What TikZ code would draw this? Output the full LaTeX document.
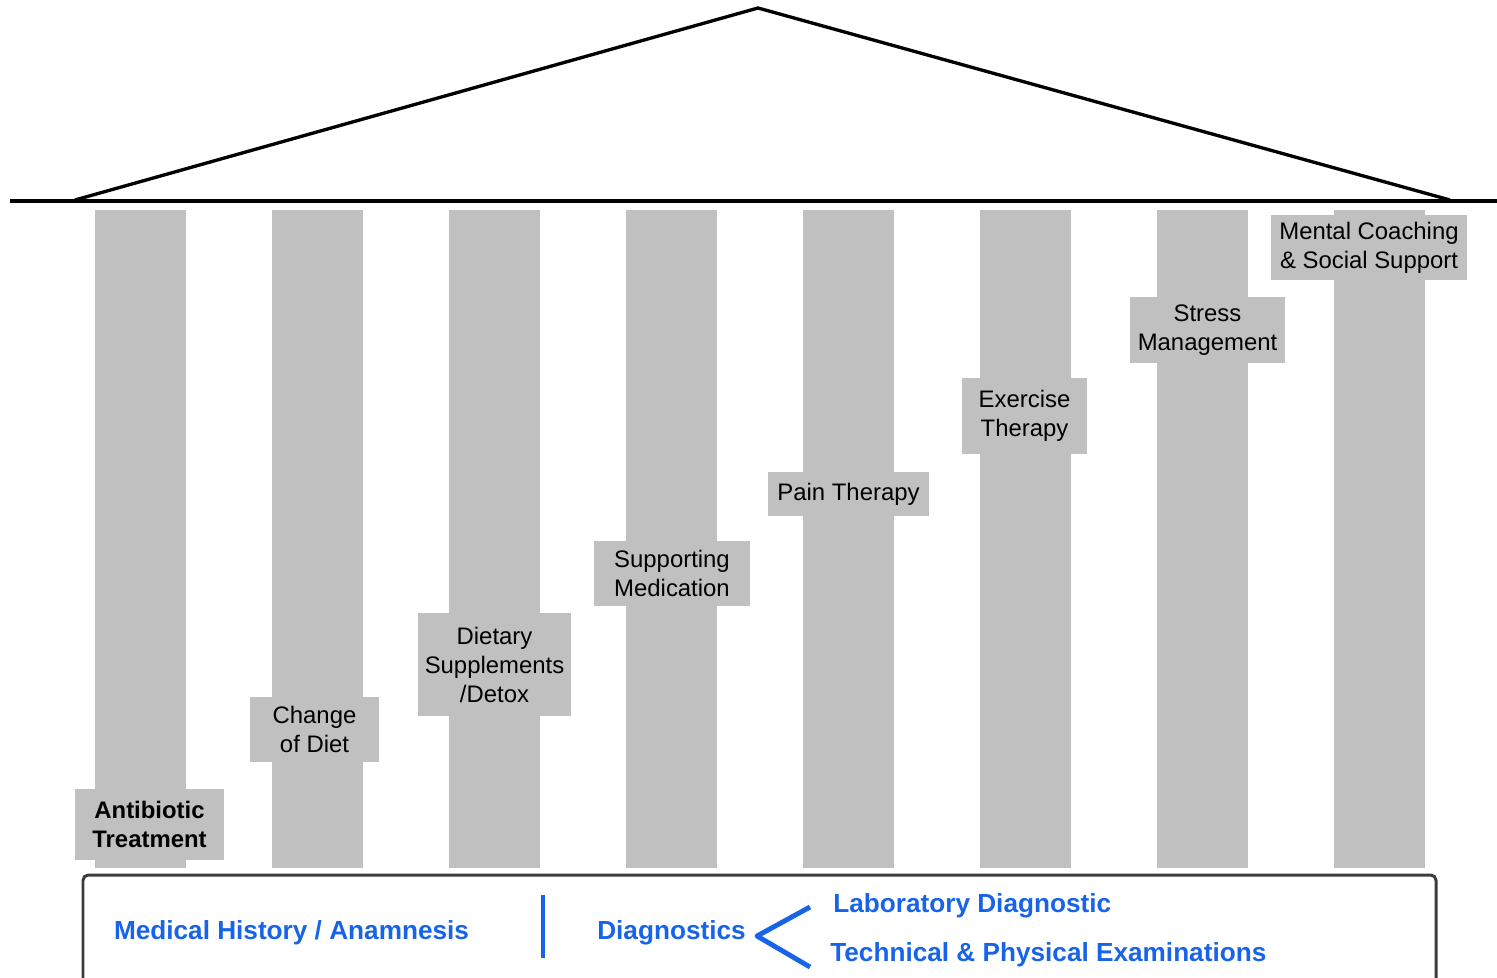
\documentclass[tikz,border=0pt]{standalone}
\usepackage{fontspec}
\setmainfont{Liberation Sans}
\usepackage{xcolor}
\usepackage{tikz}

\definecolor{pillargray}{RGB}{192,192,192}
\definecolor{diagblue}{RGB}{24,100,232}
\definecolor{framegray}{RGB}{60,60,60}

\begin{document}
\begin{tikzpicture}[
  x=0.02cm, y=-0.02cm,
  column/.style={fill=pillargray, inner sep=0, minimum width=1.82cm, minimum height=13.16cm},
  tag/.style 2 args={fill=pillargray, inner sep=0, align=center,
    minimum width=#1*0.02cm, minimum height=#2*0.02cm,
    font=\fontsize{13.6pt}{16.5pt}\selectfont},
  info/.style={text=diagblue, inner sep=0, font=\fontsize{14.9pt}{17pt}\selectfont\bfseries}
]
  \useasboundingbox (0,0) rectangle (1497,977);

  % roof
  \coordinate (eaveL) at (75,200);
  \coordinate (apex) at (758,8);
  \coordinate (eaveR) at (1450,200);
  \draw[line width=1.9pt, line join=miter] (eaveL) -- (apex) -- (eaveR);
  \draw[line width=2.3pt] (10,201) -- (1497,201);

  % pillars
  \foreach \i in {0,...,7}
    \node[column] (c\i) at (140.5+177*\i, 539) {};

  % pillar labels
  \node[tag={149}{71}, font=\fontsize{13.6pt}{16.5pt}\selectfont\bfseries] (t0) at (149.5,824.5) {Antibiotic\\Treatment};
  \node[tag={129}{65}] (t1) at (314.5,729.5) {Change\\of Diet};
  \node[tag={153}{103}] (t2) at (494.5,664.5) {Dietary\\Supplements\\/Detox};
  \node[tag={156}{65}] (t3) at (672,573.5) {Supporting\\Medication};
  \node[tag={161}{44}] (t4) at (848.5,494) {Pain Therapy};
  \node[tag={125}{76}] (t5) at (1024.5,416) {Exercise\\Therapy};
  \node[tag={155}{66}] (t6) at (1207.5,330) {Stress\\Management};
  \node[tag={196}{65}] (t7) at (1369,247.5) {Mental Coaching\\\& Social Support};

  % foundation
  \draw[framegray, line width=1.7pt, rounded corners=3pt]
    (83,990) -- (83,875) -- (1436,875) -- (1436,990);

  \node[info] (hist) at (291.5,933) {Medical History / Anamnesis};
  \draw[diagblue, line width=2.3pt] (543,895) -- (543,958);
  \node[info] (diag) at (671.5,933) {Diagnostics};
  \node[info, anchor=west] (lab) at (833,906) {Laboratory Diagnostic};
  \node[info, anchor=west] (tech) at (830,955) {Technical \& Physical Examinations};

  \coordinate (fork) at (757,936);
  \coordinate (labend) at (810,907);
  \coordinate (techend) at (810,967);
  \draw[diagblue, line width=2.8pt, line join=round] (labend) -- (fork) -- (techend);
\end{tikzpicture}
\end{document}
